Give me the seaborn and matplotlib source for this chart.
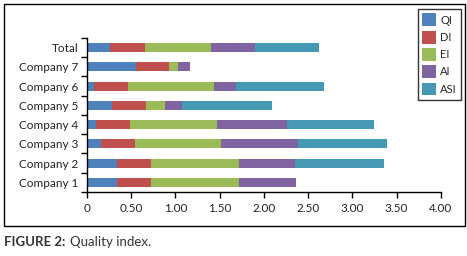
import numpy as np
import pandas as pd
import seaborn as sns
import matplotlib.pyplot as plt
from matplotlib.patches import Rectangle

# --- data --------------------------------------------------------------------
companies = ["Total", "Company 7", "Company 6", "Company 5",
             "Company 4", "Company 3", "Company 2", "Company 1"]
QI  = [0.26, 0.55, 0.08, 0.28, 0.10, 0.16, 0.34, 0.34]
DI  = [0.40, 0.38, 0.38, 0.39, 0.39, 0.38, 0.38, 0.38]
EI  = [0.74, 0.10, 0.98, 0.21, 0.98, 0.98, 1.00, 1.00]
AI  = [0.50, 0.13, 0.25, 0.20, 0.79, 0.87, 0.63, 0.64]
ASI = [0.72, 0.00, 0.99, 1.01, 0.99, 1.00, 1.01, 0.00]

series = ["QI", "DI", "EI", "AI", "ASI"]
colors = ["#4F81BD", "#C0504D", "#9BBB59", "#8064A2", "#4599B4"]

df = pd.DataFrame({"company": companies, "QI": QI, "DI": DI,
                   "EI": EI, "AI": AI, "ASI": ASI})
cum = df[series].cumsum(axis=1)
cum["company"] = df["company"]

# --- plot ----------------------------------------------------------------------
sns.set_theme(style="ticks")
plt.rcParams["font.family"] = ["Lato", "DejaVu Sans"]

fig = plt.figure(figsize=(4.67, 2.56), dpi=100)
ax = fig.add_axes([0.186, 0.25, 0.758, 0.602])

# stacked bars: draw cumulative totals from the last series backwards
for name, col in reversed(list(zip(series, colors))):
    sns.barplot(data=cum, y="company", x=name, order=companies, orient="h",
                color=col, width=0.47, label=name, saturation=1,
                edgecolor="none", linewidth=0, ax=ax)

ax.set_xlim(0, 4)
ax.set_ylim(7.5, -0.5)
ax.set_xticks(np.arange(0, 4.01, 0.5))
ax.set_xticklabels(["0"] + [f"{v:.2f}" for v in np.arange(0.5, 4.01, 0.5)])
ax.set_xlabel("")
ax.set_ylabel("")

# Excel-style category ticks between the bars
ax.set_yticks(np.arange(-0.5, 7.6, 1), minor=True)
ax.tick_params(axis="y", which="major", length=0, pad=6, labelsize=8.5,
               colors="#222222")
ax.tick_params(axis="y", which="minor", length=4, width=1, color="black")
ax.tick_params(axis="x", which="major", length=4, width=1, color="black",
               labelsize=8.5, labelcolor="#222222", pad=4)
for s in ["left", "bottom"]:
    ax.spines[s].set_color("black")
    ax.spines[s].set_linewidth(1)
sns.despine(ax=ax)

handles, labels = ax.get_legend_handles_labels()
lookup = dict(zip(labels, handles))
if ax.get_legend() is not None:
    ax.get_legend().remove()
leg = fig.legend([lookup[s] for s in series], series,
                 loc="upper left", bbox_to_anchor=(0.895, 0.965),
                 frameon=True, fancybox=False, fontsize=8,
                 handlelength=1.2, handleheight=1.4, handletextpad=0.4,
                 labelspacing=0.4, borderpad=0.4, borderaxespad=0)
leg.get_frame().set_edgecolor("black")
leg.get_frame().set_linewidth(1)

# outer frame and caption
fig.patches.append(Rectangle((0.009, 0.117), 0.986, 0.868, transform=fig.transFigure,
                             fill=False, edgecolor="black", linewidth=1))
t1 = fig.text(0.009, 0.055, "FIGURE 2:", fontsize=9.5, fontweight="bold",
              color="#333333", va="center")
fig.canvas.draw()
bb = t1.get_window_extent().transformed(fig.transFigure.inverted())
fig.text(bb.x1 + 0.009, 0.055, "Quality index.", fontsize=9.5, color="#333333",
         va="center")

fig.savefig("out.png", dpi=100)
